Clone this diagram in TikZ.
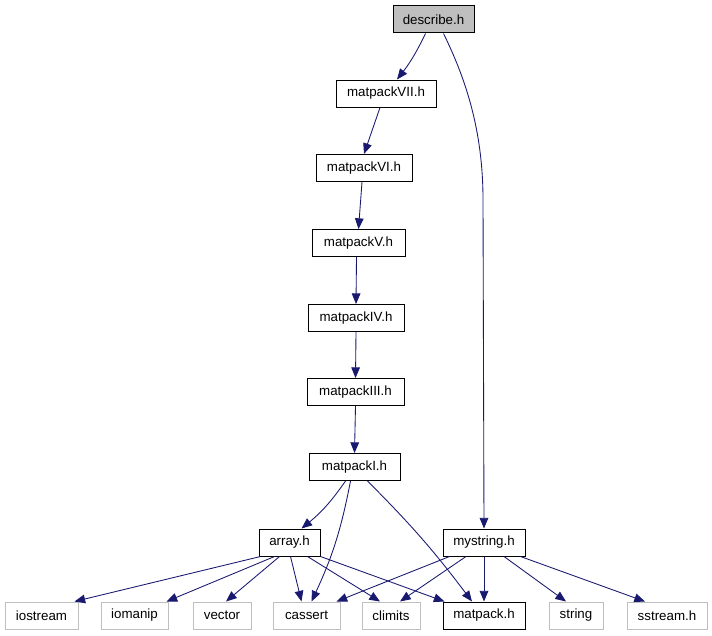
\documentclass[tikz,border=0pt]{standalone}
\usepackage{fontspec}
\setmainfont{Liberation Sans}
\usetikzlibrary{arrows.meta,calc}
\definecolor{edgeblue}{RGB}{25,25,112}
\definecolor{sysgray}{RGB}{191,191,191}
\tikzset{
  hbox/.style={draw=black, line width=0.75pt, inner sep=0pt, minimum height=20.25pt, font=\fontsize{10pt}{12pt}\selectfont},
  sysbox/.style={hbox, draw=sysgray},
  edge/.style={draw=edgeblue, line width=0.65pt, -{Triangle[length=8pt,width=6.5pt]}},
}
\begin{document}
\begin{tikzpicture}[x=0.75pt,y=-0.75pt]
\useasboundingbox (0,0) rectangle (712,635);
\node[hbox, fill=sysgray, minimum width=60.75pt] (describe) at (433.5,19.5) {describe.h};
\node[hbox, minimum width=75pt] (m7) at (386,93.5) {matpackVII.h};
\node[hbox, minimum width=72pt] (m6) at (364,168) {matpackVI.h};
\node[hbox, minimum width=69.75pt] (m5) at (358.5,243) {matpackV.h};
\node[hbox, minimum width=72pt] (m4) at (356,318) {matpackIV.h};
\node[hbox, minimum width=72.75pt] (m3) at (355.5,392) {matpackIII.h};
\node[hbox, minimum width=68.25pt] (m1) at (354.5,467) {matpackI.h};
\node[hbox, minimum width=45.75pt] (array) at (289.5,542.5) {array.h};
\node[hbox, minimum width=61.5pt] (mystring) at (484,542.5) {mystring.h};
\node[sysbox, minimum width=54.75pt] (iostream) at (41.5,615.5) {iostream};
\node[sysbox, minimum width=50.25pt] (iomanip) at (134.5,615.5) {iomanip};
\node[sysbox, minimum width=43.5pt] (vector) at (222,615.5) {vector};
\node[sysbox, minimum width=50.25pt] (cassert) at (306.5,615.5) {cassert};
\node[sysbox, minimum width=43.5pt] (climits) at (391,615.5) {climits};
\node[hbox, minimum width=61.5pt] (matpack) at (484,615.5) {matpack.h};
\node[sysbox, minimum width=40.5pt] (string) at (576,615.5) {string};
\node[sysbox, minimum width=60pt] (sstream) at (667,615.5) {sstream.h};

\coordinate (bend) at (483,200);
\draw[edge] ($(describe.south)+(-8,0)$) to[bend left=6] ($(m7.north)+(11,0)$);
\draw[edge] ($(describe.south)+(10,0)$) .. controls +(22,45) and +(0,-70) .. (bend) -- (mystring.north);
\draw[edge] ($(m7.south)+(-6,0)$) -- (m6.north);
\draw[edge] ($(m6.south)+(-2,0)$) -- (m5.north);
\draw[edge] ($(m5.south)+(-2,0)$) -- (m4.north);
\draw[edge] (m4.south) -- (m3.north);
\draw[edge] (m3.south) -- (m1.north);
\draw[edge] ($(m1.south)+(-9,0)$) to[bend left=8] ($(array.north)+(12,0)$);
\draw[edge] ($(m1.south)+(-4,0)$) to[bend left=7] ($(cassert.north)+(5,0)$);
\draw[edge] ($(m1.south)+(13,0)$) to[bend left=4] ($(matpack.north)+(-12,0)$);
\draw[edge] ($(array.south west)+(2,0)$) -- ($(iostream.north east)+(-4,0)$);
\draw[edge] ($(array.south)+(-15,0)$) -- ($(iomanip.north east)+(-2,0)$);
\draw[edge] ($(array.south)+(-10,0)$) -- ($(vector.north)+(4,0)$);
\draw[edge] ($(array.south)+(1,0)$) -- ($(cassert.north)+(-5,0)$);
\draw[edge] ($(array.south)+(18,0)$) -- ($(climits.north)+(-11,0)$);
\draw[edge] (array.south east) -- ($(matpack.north west)+(2,0)$);
\draw[edge] ($(mystring.south west)+(7,0)$) -- ($(cassert.north east)+(-4,0)$);
\draw[edge] ($(mystring.south)+(-18,0)$) -- ($(climits.north)+(9,0)$);
\draw[edge] (mystring.south) -- (matpack.north);
\draw[edge] ($(mystring.south)+(20,0)$) -- ($(string.north)+(-10,0)$);
\draw[edge] ($(mystring.south east)+(-5,0)$) -- ($(sstream.north)+(-22,0)$);
\end{tikzpicture}
\end{document}
